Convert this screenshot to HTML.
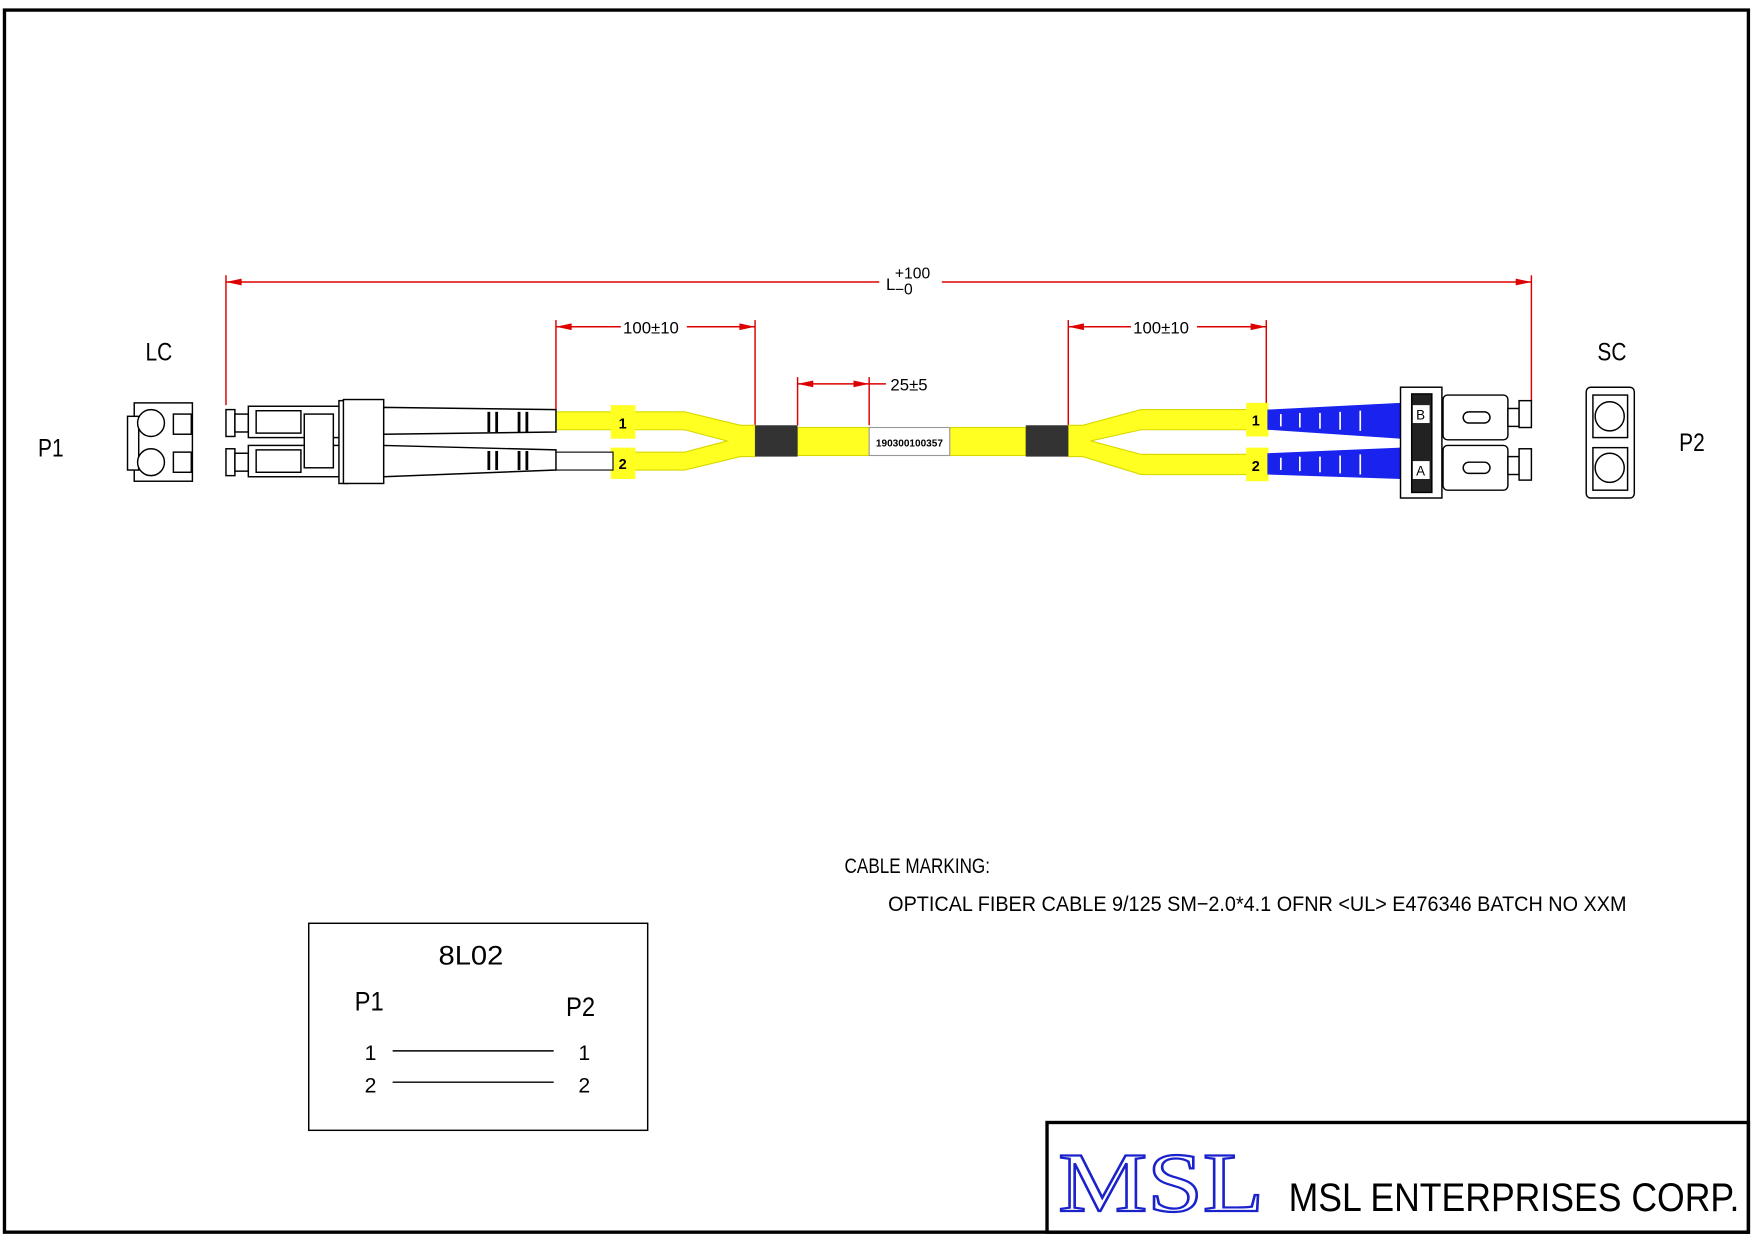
<!DOCTYPE html>
<html><head><style>html,body{margin:0;padding:0;background:#fff}svg{display:block}</style></head>
<body>
<svg width="1754" height="1240" viewBox="0 0 1568 1108" preserveAspectRatio="none" xmlns="http://www.w3.org/2000/svg" font-family="Liberation Sans, sans-serif">
<rect x="0" y="0" width="1568" height="1108" fill="#fff"/>
<rect x="4" y="9" width="1559" height="1092" fill="none" stroke="#000" stroke-width="3"/>
<rect x="936" y="1003" width="627" height="98" fill="none" stroke="#000" stroke-width="3"/>
<!-- dimension lines -->
<g stroke="#d00" stroke-width="1.3" fill="#d00">
<line x1="202" y1="252" x2="786" y2="252"/><line x1="842" y1="252" x2="1369" y2="252"/>
<line x1="202" y1="246" x2="202" y2="362"/><line x1="1369" y1="246" x2="1369" y2="358"/>
<polygon points="202,252 216,249 216,255" stroke="none"/><polygon points="1369,252 1355,249 1355,255" stroke="none"/>
<line x1="497" y1="292" x2="555" y2="292"/><line x1="614" y1="292" x2="675" y2="292"/>
<line x1="497" y1="286" x2="497" y2="366"/><line x1="675" y1="286" x2="675" y2="380"/>
<polygon points="497,292 511,289 511,295" stroke="none"/><polygon points="675,292 661,289 661,295" stroke="none"/>
<line x1="955" y1="292" x2="1011" y2="292"/><line x1="1070" y1="292" x2="1132" y2="292"/>
<line x1="955" y1="286" x2="955" y2="380"/><line x1="1132" y1="286" x2="1132" y2="362"/>
<polygon points="955,292 969,289 969,295" stroke="none"/><polygon points="1132,292 1118,289 1118,295" stroke="none"/>
<line x1="713" y1="343" x2="792" y2="343"/>
<line x1="713" y1="337" x2="713" y2="380"/><line x1="777" y1="337" x2="777" y2="380"/>
<polygon points="713,343 727,340 727,346" stroke="none"/><polygon points="777,343 763,340 763,346" stroke="none"/>
</g>
<g font-size="15" fill="#000">
<text x="792" y="259">L</text><text x="800" y="249" font-size="14">+100</text><text x="800" y="263" font-size="14">−0</text>
<text x="557" y="298">100±10</text><text x="1013" y="298">100±10</text><text x="796" y="349">25±5</text>
</g>
<!-- yellow cable -->
<g fill="#ffff22" stroke="#d8d800" stroke-width="1">
<polygon points="497,368 612,368 662,380 675,380 675,408 662,408 612,420 548,420 548,404 612,404 650,394 612,384 497,384"/>
<polygon points="955,380 968,380 1020,366 1117,366 1117,384 1020,384 975,394 1020,406 1117,406 1117,424 1020,424 968,408 955,408"/>
<rect x="713" y="382" width="64" height="25"/><rect x="849" y="382" width="68" height="25"/>
<rect x="546" y="362" width="22" height="30" stroke="none"/><rect x="546" y="400" width="22" height="28" stroke="none"/>
<rect x="1114" y="360" width="20" height="30" stroke="none"/><rect x="1114" y="400" width="20" height="30" stroke="none"/>
</g>
<rect x="675" y="380" width="38" height="28" fill="#333"/><rect x="917" y="380" width="38" height="28" fill="#333"/>
<rect x="777" y="382" width="72" height="25" fill="#fff" stroke="#999"/>
<text x="813" y="399" font-size="9" text-anchor="middle" font-weight="bold">190300100357</text>
<g font-size="13" font-weight="bold"><text x="553" y="383">1</text><text x="553" y="419">2</text><text x="1119" y="380">1</text><text x="1119" y="421">2</text></g>
<!-- LC white lower cable -->
<rect x="497" y="404" width="51" height="16" fill="#fff" stroke="#000" stroke-width="1"/>
<!-- LC connectors -->
<g fill="#fff" stroke="#000" stroke-width="1.3">
<rect x="202" y="366" width="8" height="24"/><rect x="210" y="370" width="12" height="16"/>
<rect x="222" y="363" width="85" height="28"/><rect x="229" y="367" width="40" height="20"/>
<rect x="202" y="401" width="8" height="24"/><rect x="210" y="405" width="12" height="16"/>
<rect x="222" y="398" width="85" height="28"/><rect x="229" y="402" width="40" height="20"/>
<rect x="272" y="370" width="26" height="48"/>
<rect x="303" y="358" width="8" height="74"/><rect x="307" y="357" width="36" height="75"/>
<polygon points="343,364 497,366 497,386 343,388"/><polygon points="343,398 497,402 497,420 343,426"/>
<rect x="120" y="360" width="52" height="70"/><rect x="114" y="372" width="10" height="48"/>
<circle cx="135" cy="378" r="12"/><circle cx="135" cy="413" r="12"/>
<rect x="155" y="370" width="16" height="18"/><rect x="155" y="404" width="16" height="18"/>
</g>
<g stroke="#000" stroke-width="2.5">
<line x1="437" y1="368" x2="437" y2="386"/><line x1="444" y1="368" x2="444" y2="386"/><line x1="464" y1="368" x2="464" y2="386"/><line x1="471" y1="368" x2="471" y2="386"/>
<line x1="437" y1="403" x2="437" y2="420"/><line x1="444" y1="403" x2="444" y2="420"/><line x1="464" y1="403" x2="464" y2="420"/><line x1="471" y1="403" x2="471" y2="420"/>
</g>
<!-- SC blue boots -->
<g fill="#1a22ee">
<polygon points="1133,366 1252,360 1252,392 1133,384"/>
<polygon points="1133,405 1252,400 1252,428 1133,424"/>
</g>
<g stroke="#fff" stroke-width="1.5">
<line x1="1145" y1="370" x2="1145" y2="381"/><line x1="1162" y1="369" x2="1162" y2="382"/><line x1="1180" y1="369" x2="1180" y2="383"/><line x1="1198" y1="368" x2="1198" y2="384"/><line x1="1216" y1="367" x2="1216" y2="385"/>
<line x1="1145" y1="409" x2="1145" y2="420"/><line x1="1162" y1="408" x2="1162" y2="421"/><line x1="1180" y1="408" x2="1180" y2="422"/><line x1="1198" y1="407" x2="1198" y2="423"/><line x1="1216" y1="406" x2="1216" y2="424"/>
</g>
<g fill="#fff" stroke="#000" stroke-width="1.3">
<rect x="1252" y="346" width="37" height="99"/>
<rect x="1262" y="352" width="18" height="88" fill="#222"/>
<rect x="1290" y="353" width="58" height="40" rx="4"/><rect x="1290" y="398" width="58" height="40" rx="4"/>
<rect x="1348" y="365" width="10" height="16"/><rect x="1358" y="358" width="11" height="24"/>
<rect x="1348" y="408" width="10" height="16"/><rect x="1358" y="401" width="11" height="28"/>
<rect x="1308" y="368" width="24" height="10" rx="5"/><rect x="1308" y="413" width="24" height="10" rx="5"/>
<rect x="1418" y="346" width="43" height="99" rx="4"/>
<rect x="1424" y="353" width="31" height="38"/><rect x="1424" y="400" width="31" height="38"/>
<circle cx="1439" cy="372" r="13"/><circle cx="1439" cy="418" r="13"/>
</g>
<rect x="1263" y="362" width="15" height="16" fill="#fff"/><text x="1270" y="375" font-size="12" text-anchor="middle">B</text>
<rect x="1263" y="412" width="15" height="16" fill="#fff"/><text x="1270" y="425" font-size="12" text-anchor="middle">A</text>
<!-- labels -->
<g font-size="22" fill="#000" transform="scale(0.85,1)">
<text x="153" y="322">LC</text><text x="1680" y="322">SC</text>
<text x="40" y="408">P1</text><text x="1766" y="403">P2</text>
</g>
<g font-size="19" fill="#000">
<text x="755" y="780" textLength="130" lengthAdjust="spacingAndGlyphs">CABLE MARKING:</text>
<text x="794" y="814" textLength="660" lengthAdjust="spacingAndGlyphs">OPTICAL FIBER CABLE 9/125 SM−2.0*4.1 OFNR &lt;UL&gt; E476346   BATCH NO XXM</text>
</g>
<!-- pin table -->
<rect x="276" y="825" width="303" height="185" fill="none" stroke="#000" stroke-width="1.3"/>
<g font-size="24" fill="#000">
<text x="392" y="862" textLength="58" lengthAdjust="spacingAndGlyphs">8L02</text>
<text x="317" y="903" textLength="26" lengthAdjust="spacingAndGlyphs">P1</text>
<text x="506" y="908" textLength="26" lengthAdjust="spacingAndGlyphs">P2</text>
</g>
<g font-size="19" fill="#000"><text x="326" y="947">1</text><text x="326" y="976">2</text><text x="517" y="947">1</text><text x="517" y="976">2</text></g>
<line x1="351" y1="939" x2="495" y2="939" stroke="#000" stroke-width="1.3"/>
<line x1="351" y1="967" x2="495" y2="967" stroke="#000" stroke-width="1.3"/>
<!-- title -->
<text x="946" y="1082" font-family="Liberation Serif, serif" font-size="76" fill="#fff" stroke="#1a22cc" stroke-width="2" textLength="184" lengthAdjust="spacingAndGlyphs">MSL</text>
<text x="1152" y="1082" font-size="36" fill="#000" textLength="403" lengthAdjust="spacingAndGlyphs">MSL ENTERPRISES CORP.</text>
</svg>
</body></html>
